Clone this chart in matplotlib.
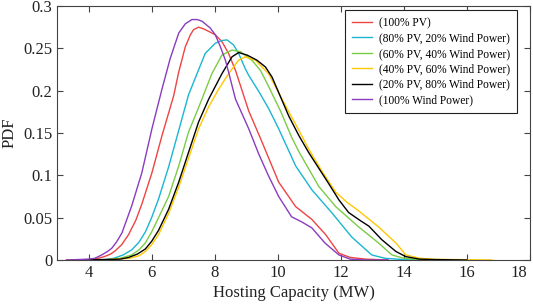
import matplotlib
matplotlib.use("Agg")
import matplotlib.pyplot as plt
import matplotlib.transforms as mtrans

plt.rcParams['font.family'] = ['Liberation Serif', 'DejaVu Serif']

labels = ["(100% PV)", "(80% PV, 20% Wind Power)", "(60% PV, 40% Wind Power)",
          "(40% PV, 60% Wind Power)", "(20% PV, 80% Wind Power)", "(100% Wind Power)"]
colors = ["#ee4444", "#1ab6d2", "#7acc44", "#ffc800", "#000000", "#8a3cbf"]

x_pv100 = [3.3, 4.0, 4.3, 4.5, 4.7, 4.85, 5.05, 5.27, 5.5, 5.69, 6.01, 6.33, 6.7, 6.86,
           7.07, 7.23, 7.33, 7.49, 7.65, 7.81, 8.02, 8.23, 8.44, 8.66, 8.8, 9.08, 9.46,
           10.03, 10.57, 11.08, 11.52, 11.94, 12.3, 12.8, 13.5]
y_pv100 = [0, 0.0005, 0.002, 0.004, 0.007, 0.011, 0.018, 0.03, 0.047, 0.066, 0.103, 0.147,
           0.194, 0.222, 0.252, 0.266, 0.272, 0.275, 0.273, 0.27, 0.266, 0.258, 0.244,
           0.224, 0.208, 0.176, 0.143, 0.092, 0.063, 0.048, 0.03, 0.008, 0.003, 0.001, 0]

x_pv80 = [3.5, 4.5, 4.8, 5.1, 5.37, 5.6, 5.8, 6.0, 6.22, 6.54, 6.86, 7.17, 7.44, 7.7,
          8.02, 8.2, 8.39, 8.6, 8.76, 8.97, 9.08, 9.4, 9.71, 10.03, 10.57, 11.08, 11.71,
          12.35, 12.98, 13.4, 14.0, 15.0]
y_pv80 = [0, 0.0005, 0.002, 0.006, 0.012, 0.021, 0.033, 0.05, 0.072, 0.11, 0.153, 0.195,
          0.22, 0.244, 0.256, 0.259, 0.26, 0.254, 0.244, 0.226, 0.218, 0.199, 0.179, 0.155,
          0.111, 0.083, 0.056, 0.027, 0.006, 0.002, 0.0005, 0]

x_pv60 = [3.5, 4.6, 5.0, 5.37, 5.6, 5.8, 6.0, 6.22, 6.54, 6.86, 7.17, 7.49, 7.91, 8.23,
          8.55, 8.82, 9.18, 9.45, 9.71, 10.1, 10.44, 10.67, 11.3, 11.84, 12.57, 13.2, 13.62,
          14.0, 14.5, 15.5]
y_pv60 = [0, 0.0005, 0.002, 0.006, 0.012, 0.02, 0.033, 0.05, 0.075, 0.111, 0.151, 0.18,
          0.22, 0.242, 0.248, 0.246, 0.236, 0.224, 0.205, 0.175, 0.145, 0.128, 0.087, 0.063,
          0.039, 0.02, 0.006, 0.002, 0.0005, 0]

x_pv40 = [3.5, 4.5, 5.3, 5.6, 5.8, 6.0, 6.22, 6.54, 6.86, 7.17, 7.49, 7.81, 8.13, 8.44,
          8.76, 8.97, 9.29, 9.71, 10.35, 10.73, 10.98, 11.4, 11.84, 12.2, 12.57, 13.2, 13.75,
          14.06, 14.5, 15.0, 16.0, 16.8]
y_pv40 = [0, 0.0003, 0.002, 0.005, 0.01, 0.018, 0.03, 0.055, 0.086, 0.12, 0.155, 0.181,
          0.202, 0.22, 0.236, 0.24, 0.236, 0.22, 0.175, 0.149, 0.131, 0.105, 0.08, 0.068,
          0.058, 0.039, 0.02, 0.006, 0.002, 0.0008, 0.0003, 0]

x_pv20 = [3.5, 4.5, 5.0, 5.27, 5.55, 5.8, 6.0, 6.22, 6.54, 6.86, 7.17, 7.49, 7.81, 8.23,
          8.55, 8.76, 9.03, 9.34, 9.61, 9.82, 10.35, 10.67, 10.98, 11.62, 11.94, 12.25, 12.6,
          12.89, 13.3, 13.75, 14.06, 14.5, 15.0, 16.0]
y_pv20 = [0, 0.0005, 0.001, 0.003, 0.007, 0.013, 0.022, 0.035, 0.06, 0.092, 0.127, 0.163,
          0.19, 0.22, 0.24, 0.245, 0.242, 0.236, 0.228, 0.216, 0.17, 0.147, 0.127, 0.09,
          0.071, 0.056, 0.047, 0.04, 0.024, 0.01, 0.004, 0.001, 0.0005, 0]

x_wind = [3.3, 4.0, 4.2, 4.42, 4.6, 4.74, 4.9, 5.06, 5.37, 5.69, 6.01, 6.33, 6.59, 6.86,
          7.07, 7.28, 7.45, 7.6, 7.86, 8.02, 8.18, 8.34, 8.44, 8.66, 9.08, 9.4, 9.7, 10.03,
          10.44, 10.76, 11.08, 11.5, 11.94, 12.3, 12.8, 13.5]
y_wind = [0, 0.001, 0.002, 0.006, 0.01, 0.014, 0.022, 0.032, 0.064, 0.103, 0.155, 0.202,
          0.238, 0.268, 0.279, 0.284, 0.284, 0.282, 0.274, 0.266, 0.252, 0.236, 0.222,
          0.19, 0.155, 0.125, 0.1, 0.075, 0.051, 0.045, 0.038, 0.02, 0.006, 0.001, 0, 0]

series = [(x_pv100, y_pv100), (x_pv80, y_pv80), (x_pv60, y_pv60),
          (x_pv40, y_pv40), (x_pv20, y_pv20), (x_wind, y_wind)]

x_ticks = [4, 6, 8, 10, 12, 14, 16, 18]
y_ticks = [0, 0.05, 0.1, 0.15, 0.2, 0.25, 0.3]
y_ticklabels = ["0", "0.05", "0.1", "0.15", "0.2", "0.25", "0.3"]

fig = plt.figure(figsize=(5.33, 3.06), dpi=100)
ax = fig.add_axes([57/533, 1-260/306, (530-57)/533, (260-6)/306])

for (xs, ys), c, lab in zip(series, colors, labels):
    ax.plot(xs, ys, color=c, lw=1.0, label=lab, solid_joinstyle='round')

ax.set_xlim(3, 18)
ax.set_ylim(0, 0.3)
ax.set_xticks(x_ticks)
ax.set_yticks(y_ticks)
ax.set_yticklabels(y_ticklabels)
ax.tick_params(direction='in', top=True, right=True, length=4, width=0.8,
               labelsize=12, colors='#444444', labelcolor='#222222')
for s in ax.spines.values():
    s.set_color('#444444')
    s.set_linewidth(0.8)
ax.set_xlabel("Hosting Capacity (MW)", fontsize=12, color='#222222', labelpad=3)
ax.set_ylabel("PDF", fontsize=12, color='#222222', labelpad=4)

fig.canvas.draw()
last = ax.get_xticklabels()[-1]
last.set_transform(last.get_transform() + mtrans.ScaledTranslation(-11/100, 0, fig.dpi_scale_trans))

leg = ax.legend(loc='upper right', bbox_to_anchor=((517-57)/473, (260-10)/254),
                borderaxespad=0, fontsize=8.3, fancybox=False, framealpha=1,
                edgecolor='#222222', handlelength=1.75, handletextpad=0.6,
                labelspacing=0.3, borderpad=0.6)
leg.get_frame().set_linewidth(0.8)

fig.savefig("out.png", dpi=100)
